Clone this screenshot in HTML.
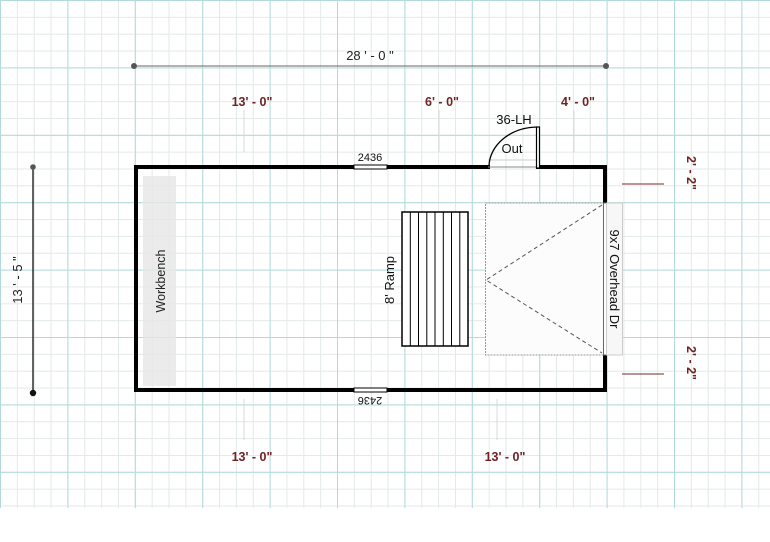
<!DOCTYPE html>
<html><head><meta charset="utf-8"><style>
html,body{margin:0;padding:0;background:#fff;width:770px;height:542px;overflow:hidden}
svg{display:block}
text{font-family:"Liberation Sans",Arial,sans-serif}
</style></head><body>
<svg width="770" height="542" viewBox="0 0 770 542" xmlns="http://www.w3.org/2000/svg">
<defs>
<pattern id="minor" width="16.85" height="16.85" patternUnits="userSpaceOnUse">
<path d="M0.5 0V16.85M0 0.5H16.85" stroke="#e3e9e9" stroke-width="1" fill="none"/>
</pattern>
<pattern id="major" width="67.4" height="67.4" patternUnits="userSpaceOnUse">
<path d="M0.5 0V67.4M0 0.5H67.4" stroke="#b2dada" stroke-width="1" fill="none"/>
</pattern>
</defs>
<rect x="0" y="0" width="770" height="508" fill="url(#minor)"/>
<rect x="0" y="0" width="770" height="508" fill="url(#major)"/>

<!-- overall dims -->
<line x1="134" y1="66" x2="606" y2="66" stroke="#666" stroke-width="1"/>
<circle cx="134" cy="66" r="3" fill="#555"/><circle cx="606" cy="66" r="3" fill="#555"/>
<text x="370" y="60" font-size="13" text-anchor="middle" fill="#222">28 ' - 0 "</text>
<line x1="33" y1="167" x2="33" y2="393" stroke="#111" stroke-width="1.3"/>
<circle cx="33" cy="167" r="2.8" fill="#555"/><circle cx="33" cy="393" r="3.2" fill="#111"/>
<text transform="translate(22,280) rotate(-90)" font-size="13" text-anchor="middle" fill="#222">13 ' - 5 "</text>

<!-- red dim labels -->
<g font-size="12.5" font-weight="bold" fill="#6e2424" text-anchor="middle">
<text x="252" y="106">13' - 0"</text>
<text x="442" y="106">6' - 0"</text>
<text x="578" y="106">4' - 0"</text>
<text x="252" y="461">13' - 0"</text>
<text x="505" y="461">13' - 0"</text>
<text transform="translate(687,173) rotate(90)">2' - 2"</text>
<text transform="translate(687,363) rotate(90)">2' - 2"</text>
</g>
<g stroke="#d8d8d8" stroke-width="1">
<line x1="244" y1="110" x2="244" y2="152"/><line x1="439" y1="110" x2="439" y2="152"/><line x1="574" y1="110" x2="574" y2="152"/>
<line x1="244" y1="399" x2="244" y2="440"/><line x1="497" y1="399" x2="497" y2="440"/>
</g>
<line x1="622" y1="184" x2="664" y2="184" stroke="#7a2a2a" stroke-width="1"/>
<line x1="622" y1="374" x2="664" y2="374" stroke="#7a2a2a" stroke-width="1"/>

<!-- workbench -->
<rect x="143" y="176" width="33" height="210" fill="#e6e6e6" opacity="0.8"/>
<text transform="translate(165,281) rotate(-90)" font-size="12.5" text-anchor="middle" fill="#222">Workbench</text>

<!-- walls -->
<g stroke="#000" stroke-width="4" fill="none" stroke-linecap="square">
<polyline points="488,167 136,167 136,390 605,390 605,355"/>
<polyline points="538,167 605,167 605,203"/>
</g>
<!-- windows -->
<rect x="354" y="165" width="33" height="4" fill="#fff" stroke="#000" stroke-width="1"/>
<rect x="354" y="388" width="33" height="4" fill="#fff" stroke="#000" stroke-width="1"/>
<text x="370" y="161" font-size="11" text-anchor="middle" fill="#111">2436</text>
<text transform="translate(370,397) rotate(180)" font-size="11" text-anchor="middle" fill="#111">2436</text>

<!-- door -->
<line x1="488" y1="167" x2="538" y2="167" stroke="#888" stroke-width="1"/>
<line x1="488" y1="160" x2="538" y2="160" stroke="#ccc" stroke-width="1"/>
<rect x="536.5" y="127" width="3" height="41" fill="#fff" stroke="#000" stroke-width="1.2"/>
<path d="M489 166 A49 40 0 0 1 537 127" fill="none" stroke="#000" stroke-width="1.3"/>
<text x="512" y="153" font-size="13" text-anchor="middle" fill="#111">Out</text>
<text x="514" y="124" font-size="13" text-anchor="middle" fill="#111">36-LH</text>

<!-- overhead door -->
<rect x="485.5" y="203" width="118" height="152" fill="#fcfcfc" stroke="#999" stroke-width="1" stroke-dasharray="2,1"/>
<polyline points="602,205 486,280 602,353" fill="none" stroke="#555" stroke-width="1" stroke-dasharray="4,3"/>
<rect x="603.5" y="203" width="3" height="152" fill="#fff" stroke="#666" stroke-width="1"/>
<rect x="606.5" y="203" width="16" height="152" fill="#f7f7f7" stroke="#ccc" stroke-width="1"/>
<text transform="translate(610,279) rotate(90)" font-size="13" text-anchor="middle" fill="#111">9x7 Overhead Dr</text>

<!-- ramp -->
<rect x="402" y="212" width="66" height="134" fill="#fff" stroke="#000" stroke-width="1.5"/>
<g stroke="#000" stroke-width="1">
<line x1="410.3" y1="212" x2="410.3" y2="346"/><line x1="418.5" y1="212" x2="418.5" y2="346"/>
<line x1="426.8" y1="212" x2="426.8" y2="346"/><line x1="435" y1="212" x2="435" y2="346"/>
<line x1="443.3" y1="212" x2="443.3" y2="346"/><line x1="451.5" y1="212" x2="451.5" y2="346"/>
<line x1="459.8" y1="212" x2="459.8" y2="346"/>
</g>
<text transform="translate(394,280) rotate(-90)" font-size="13" text-anchor="middle" fill="#111">8' Ramp</text>
</svg>
</body></html>
